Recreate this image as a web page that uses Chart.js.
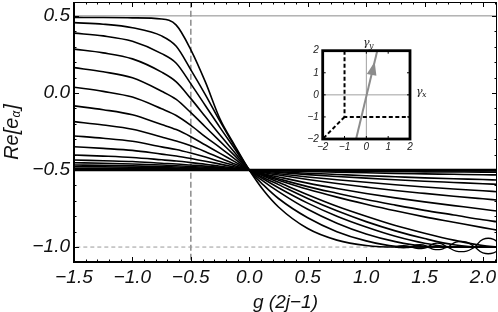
<!DOCTYPE html>
<html>
<head>
<meta charset="utf-8">
<script src="https://cdn.jsdelivr.net/npm/chart.js@4.4.1/dist/chart.umd.min.js"></script>
<style>
  html, body { margin:0; padding:0; background:#fff; }
  #wrap { position:relative; width:498px; height:312px; }
  #main { position:absolute; left:0; top:0; }
  #inset { position:absolute; left:300px; top:35px; }
</style>
</head>
<body>
<div id="wrap">
  <canvas id="main" width="498" height="312"></canvas>
  <canvas id="inset" width="135" height="126"></canvas>
</div>
<script>
// ---- data ----

// shared g(2j-1) sample positions
const gX = [-1.5, -1.25, -1.0, -0.75, -0.625, -0.5, -0.375, -0.25, -0.125, 0,
            0.125, 0.25, 0.5, 0.75, 1.0, 1.25, 1.5, 1.75, 2.0, 2.12];

// Re[e_alpha] branches, top to bottom on the left side
const eig0  = [0.49, 0.489, 0.487, 0.48, 0.44, 0.28, 0.07, -0.17, -0.34, -0.5, -0.635, -0.74, -0.88, -0.955, -0.99, -1.0, -1.0, -1.0, -1.0, -1.0];
const eig1  = [0.456, 0.446, 0.423, 0.370, 0.303, 0.150, -0.012, -0.185, -0.347, -0.5, -0.60, -0.685, -0.81, -0.90, -0.96, -0.995, -1.0, -1.0, -1.0, -1.0];
const eig2  = [0.388, 0.370, 0.335, 0.255, 0.193, 0.059, -0.083, -0.225, -0.362, -0.5, -0.575, -0.64, -0.755, -0.845, -0.915, -0.965, -0.995, -1.0, -1.0, -1.0];
const eig3  = [0.284, 0.260, 0.221, 0.135, 0.072, -0.037, -0.155, -0.273, -0.386, -0.5, -0.56, -0.615, -0.715, -0.80, -0.87, -0.93, -0.975, -1.0, -1.0, -1.0];
const eig4  = [0.164, 0.137, 0.098, 0.011, -0.042, -0.128, -0.221, -0.314, -0.407, -0.5, -0.55, -0.595, -0.685, -0.765, -0.835, -0.895, -0.945, -0.985, -1.0, -1.0];
const eig5  = [0.037, 0.010, -0.027, -0.103, -0.146, -0.210, -0.285, -0.355, -0.428, -0.5, -0.54, -0.58, -0.66, -0.735, -0.80, -0.86, -0.91, -0.955, -0.99, -1.0];
const eig6  = [-0.084, -0.109, -0.142, -0.205, -0.238, -0.284, -0.338, -0.392, -0.446, -0.5, -0.535, -0.566, -0.625, -0.676, -0.722, -0.765, -0.804, -0.839, -0.874, -0.89];
const eig7  = [-0.186, -0.208, -0.236, -0.286, -0.312, -0.343, -0.381, -0.422, -0.461, -0.5, -0.530, -0.557, -0.608, -0.651, -0.692, -0.728, -0.762, -0.792, -0.823, -0.836];
const eig8  = [-0.279, -0.294, -0.314, -0.350, -0.367, -0.390, -0.416, -0.445, -0.472, -0.5, -0.524, -0.545, -0.585, -0.620, -0.652, -0.681, -0.707, -0.731, -0.755, -0.766];
const eig9  = [-0.349, -0.360, -0.373, -0.397, -0.409, -0.425, -0.443, -0.462, -0.481, -0.5, -0.518, -0.533, -0.562, -0.588, -0.611, -0.633, -0.652, -0.670, -0.687, -0.695];
const eig10 = [-0.403, -0.410, -0.419, -0.434, -0.442, -0.452, -0.463, -0.476, -0.488, -0.5, -0.513, -0.524, -0.545, -0.563, -0.580, -0.596, -0.610, -0.623, -0.635, -0.641];
const eig11 = [-0.435, -0.440, -0.445, -0.456, -0.461, -0.468, -0.475, -0.484, -0.492, -0.5, -0.508, -0.516, -0.530, -0.542, -0.553, -0.563, -0.573, -0.581, -0.589, -0.593];
const eig12 = [-0.453, -0.456, -0.461, -0.468, -0.472, -0.477, -0.482, -0.488, -0.494, -0.5, -0.506, -0.511, -0.521, -0.529, -0.537, -0.544, -0.551, -0.557, -0.562, -0.565];
const eig13 = [-0.468, -0.470, -0.473, -0.478, -0.481, -0.484, -0.488, -0.492, -0.496, -0.5, -0.503, -0.505, -0.510, -0.514, -0.518, -0.522, -0.525, -0.528, -0.531, -0.532];
const eig14 = [-0.479, -0.480, -0.482, -0.486, -0.487, -0.490, -0.492, -0.495, -0.497, -0.5, -0.501, -0.503, -0.505, -0.507, -0.509, -0.510, -0.512, -0.513, -0.514, -0.515];
const eig15 = [-0.489, -0.490, -0.491, -0.493, -0.493, -0.495, -0.496, -0.497, -0.499, -0.5, -0.501, -0.501, -0.502, -0.503, -0.504, -0.505, -0.505, -0.506, -0.507, -0.507];
const eig16 = [-0.495, -0.495, -0.496, -0.497, -0.497, -0.498, -0.498, -0.499, -0.499, -0.5, -0.5, -0.5, -0.501, -0.501, -0.501, -0.502, -0.502, -0.502, -0.502, -0.502];
const branches = [eig0, eig1, eig2, eig3, eig4, eig5, eig6, eig7, eig8, eig9, eig10, eig11, eig12, eig13, eig14, eig15, eig16];

// little loops where branches pair up near -1
const loopStart  = [1.25, 1.39, 1.53, 1.70, 1.93];
const loopEnd    = [1.39, 1.53, 1.69, 1.93, 2.16];
const loopTop    = [-0.992, -0.986, -0.978, -0.968, -0.95];
const loopBottom = [-1.004, -1.009, -1.015, -1.026, -1.038];

// tick labels
const xTicks = [-1.5, -1.0, -0.5, 0.0, 0.5, 1.0, 1.5, 2.0];
const yTicks = [-1.0, -0.5, 0.0, 0.5];

// inset (gamma plane)
const insetTicks = [-2, -1, 0, 1, 2];
const insetDashX = [-1, -1, 2];
const insetDashY = [2, -1, -1];
const insetDiagX = [-1, -2];
const insetDiagY = [-1, -2];
const arrowX = [-0.47, 0.5];
const arrowY = [-2, 2];
const arrowHeadX = [0.38, 0.02, 0.46];
const arrowHeadY = [1.5, 0.95, 0.87];

// ---- helpers ----
const FONT = '"Liberation Sans", Arial, Helvetica, sans-serif';
const signed = (v, d) => (v < 0 ? '\u2212' : '') + Math.abs(v).toFixed(d);
const pts = (xs, ys) => xs.map((x, i) => ({x: x, y: ys[i]}));

function seg(ctx, x1, y1, x2, y2){
  ctx.beginPath(); ctx.moveTo(x1, y1); ctx.lineTo(x2, y2); ctx.stroke();
}

// ---- main chart ----
const datasets = [];

branches.forEach(b => {
  datasets.push({
    data: pts(gX, b),
    borderColor: '#000', borderWidth: 1.6,
    pointRadius: 0, cubicInterpolationMode: 'monotone', order: 1
  });
});

loopStart.forEach((s, i) => {
  const w = loopEnd[i] - s;
  [loopTop[i], loopBottom[i]].forEach(v => {
    datasets.push({
      data: [{x: s, y: -1.0}, {x: s + 0.3 * w, y: v}, {x: s + 0.7 * w, y: v}, {x: loopEnd[i], y: -1.0}],
      borderColor: '#000', borderWidth: 1.3,
      pointRadius: 0, tension: 0.4, order: 1
    });
  });
});

// flat branch at -1/2
datasets.push({
  data: [{x: -1.6, y: -0.5}, {x: 2.2, y: -0.5}],
  borderColor: '#000', borderWidth: 2.6, pointRadius: 0, order: 2
});
// guide lines
datasets.push({
  data: [{x: -1.6, y: 0.5}, {x: 2.2, y: 0.5}],
  borderColor: '#8a8a8a', borderWidth: 1, pointRadius: 0, order: 5
});
datasets.push({
  data: [{x: -1.6, y: -1.0}, {x: 2.2, y: -1.0}],
  borderColor: '#9a9a9a', borderWidth: 1, borderDash: [4, 3], pointRadius: 0, order: 5
});
datasets.push({
  data: [{x: -0.5, y: -1.2}, {x: -0.5, y: 0.7}],
  borderColor: '#7a7a7a', borderWidth: 1.3, borderDash: [6, 3], pointRadius: 0, order: 5
});

const frameTicks = {
  id: 'frameTicks',
  afterDatasetsDraw(chart){
    const ctx = chart.ctx, a = chart.chartArea;
    const x = chart.scales.x, y = chart.scales.y;
    ctx.save();
    ctx.strokeStyle = '#000';
    ctx.lineWidth = 1;
    for (let i = -15; i <= 21; i++){
      const px = Math.round(x.getPixelForValue(i / 10)) + 0.5;
      if (px < a.left || px > a.right) continue;
      const len = i % 5 === 0 ? 5 : 2.5;
      seg(ctx, px, a.bottom, px, a.bottom - len);
      seg(ctx, px, a.top, px, a.top + len);
    }
    for (let i = -10; i <= 5; i++){
      const py = Math.round(y.getPixelForValue(i / 10)) + 0.5;
      const len = i % 5 === 0 ? 5 : 2.5;
      seg(ctx, a.left, py, a.left + len, py);
      seg(ctx, a.right, py, a.right - len, py);
    }
    // frame
    ctx.lineWidth = 1;
    seg(ctx, a.left, a.top + 0.5, a.right, a.top + 0.5);
    seg(ctx, a.right - 0.5, a.top, a.right - 0.5, a.bottom);
    ctx.lineWidth = 2;
    seg(ctx, a.left, a.top, a.left, a.bottom + 1);
    seg(ctx, a.left - 1, a.bottom, a.right, a.bottom);

    // y-axis title with subscript alpha
    ctx.fillStyle = '#111';
    ctx.textBaseline = 'middle';
    const big = 'italic 20px ' + FONT, small = 'italic 12px ' + FONT;
    ctx.font = big;
    const w1 = ctx.measureText('Re[e').width, w3 = ctx.measureText(']').width;
    ctx.font = small;
    const w2 = ctx.measureText('\u03b1').width;
    const total = w1 + w2 + 1 + w3;
    ctx.translate(12, (a.top + a.bottom) / 2);
    ctx.rotate(-Math.PI / 2);
    let cx = -total / 2;
    ctx.font = big; ctx.fillText('Re[e', cx, 0); cx += w1;
    ctx.font = small; ctx.fillText('\u03b1', cx, 5); cx += w2 + 1;
    ctx.font = big; ctx.fillText(']', cx, 0);
    ctx.restore();
  }
};

new Chart(document.getElementById('main'), {
  type: 'line',
  data: { datasets: datasets },
  options: {
    responsive: false,
    animation: false,
    layout: { padding: { top: 2, right: 1, left: 0, bottom: 0 } },
    plugins: { legend: { display: false }, tooltip: { enabled: false } },
    scales: {
      x: {
        type: 'linear', min: -1.5, max: 2.12,
        grid: { display: false, drawTicks: false }, border: { display: false },
        afterBuildTicks: s => { s.ticks = xTicks.map(v => ({value: v})); },
        afterFit: s => { s.height = 50; s.paddingLeft = 0; s.paddingRight = 0; },
        ticks: {
          padding: 4, color: '#111', maxRotation: 0, autoSkip: false,
          font: { family: FONT, size: 19, style: 'italic' },
          callback: v => signed(v, 1)
        },
        title: {
          display: true, text: 'g (2j\u22121)', color: '#111',
          font: { family: FONT, size: 19, style: 'italic', lineHeight: 1.0 },
          padding: { top: 0, bottom: 0 }
        }
      },
      y: {
        type: 'linear', min: -1.097, max: 0.59,
        grid: { display: false, drawTicks: false }, border: { display: false },
        afterBuildTicks: s => { s.ticks = yTicks.map(v => ({value: v})); },
        afterFit: s => { s.width = 74; s.paddingTop = 0; s.paddingBottom = 0; },
        ticks: {
          padding: 4, color: '#111', autoSkip: false,
          font: { family: FONT, size: 19, style: 'italic' },
          callback: v => signed(v, 1)
        }
      }
    }
  },
  plugins: [frameTicks]
});

// ---- inset ----
const insetDeco = {
  id: 'insetDeco',
  afterDatasetsDraw(chart){
    const ctx = chart.ctx, a = chart.chartArea;
    const x = chart.scales.x, y = chart.scales.y;
    ctx.save();
    // arrow head
    ctx.fillStyle = '#8c8c8c';
    ctx.beginPath();
    arrowHeadX.forEach((v, i) => {
      const px = x.getPixelForValue(v), py = y.getPixelForValue(arrowHeadY[i]);
      if (i === 0) ctx.moveTo(px, py); else ctx.lineTo(px, py);
    });
    ctx.closePath(); ctx.fill();
    // ticks
    ctx.strokeStyle = '#000'; ctx.lineWidth = 1;
    insetTicks.forEach(v => {
      const px = x.getPixelForValue(v), py = y.getPixelForValue(v);
      seg(ctx, px, a.bottom, px, a.bottom - 3);
      seg(ctx, px, a.top, px, a.top + 3);
      seg(ctx, a.left, py, a.left + 3, py);
      seg(ctx, a.right, py, a.right - 3, py);
    });
    // frame
    ctx.lineWidth = 2.8;
    ctx.strokeRect(a.left, a.top, a.right - a.left, a.bottom - a.top);
    // gamma labels
    ctx.fillStyle = '#222';
    ctx.textBaseline = 'alphabetic';
    ctx.font = 'italic 11px "DejaVu Serif", serif';
    ctx.fillText('\u03b3', 63, 11);
    ctx.fillText('\u03b3', 116, 60);
    ctx.font = 'italic 8px "DejaVu Serif", serif';
    ctx.fillText('y', 69, 13);
    ctx.fillText('x', 122, 62);
    ctx.restore();
  }
};

const insetFont = { family: FONT, size: 10, style: 'italic' };

new Chart(document.getElementById('inset'), {
  type: 'line',
  data: {
    datasets: [
      { data: [{x: 0, y: -2}, {x: 0, y: 2}], borderColor: '#a0a0a0', borderWidth: 1, pointRadius: 0, order: 5 },
      { data: [{x: -2, y: 0}, {x: 2, y: 0}], borderColor: '#a0a0a0', borderWidth: 1, pointRadius: 0, order: 5 },
      { data: pts(insetDashX, insetDashY), borderColor: '#000', borderWidth: 2, borderDash: [4, 2.5], pointRadius: 0, order: 2 },
      { data: pts(insetDiagX, insetDiagY), borderColor: '#000', borderWidth: 2, borderDash: [4, 2.5], pointRadius: 0, order: 2 },
      { data: pts(arrowX, arrowY), borderColor: '#8c8c8c', borderWidth: 2, pointRadius: 0, order: 1 }
    ]
  },
  options: {
    responsive: false,
    animation: false,
    layout: { padding: { top: 15.7, right: 25, left: 0, bottom: 0 } },
    plugins: { legend: { display: false }, tooltip: { enabled: false } },
    scales: {
      x: {
        type: 'linear', min: -2, max: 2,
        grid: { display: false, drawTicks: false }, border: { display: false },
        afterBuildTicks: s => { s.ticks = insetTicks.map(v => ({value: v})); },
        afterFit: s => { s.height = 22; s.paddingLeft = 0; s.paddingRight = 0; },
        ticks: { padding: 2, color: '#222', maxRotation: 0, autoSkip: false, font: insetFont, callback: v => signed(v, 0) }
      },
      y: {
        type: 'linear', min: -2, max: 2,
        grid: { display: false, drawTicks: false }, border: { display: false },
        afterBuildTicks: s => { s.ticks = insetTicks.map(v => ({value: v})); },
        afterFit: s => { s.width = 22.7; s.paddingTop = 0; s.paddingBottom = 0; },
        ticks: { padding: 4, color: '#222', autoSkip: false, font: insetFont, callback: v => signed(v, 0) }
      }
    }
  },
  plugins: [insetDeco]
});
</script>
</body>
</html>
